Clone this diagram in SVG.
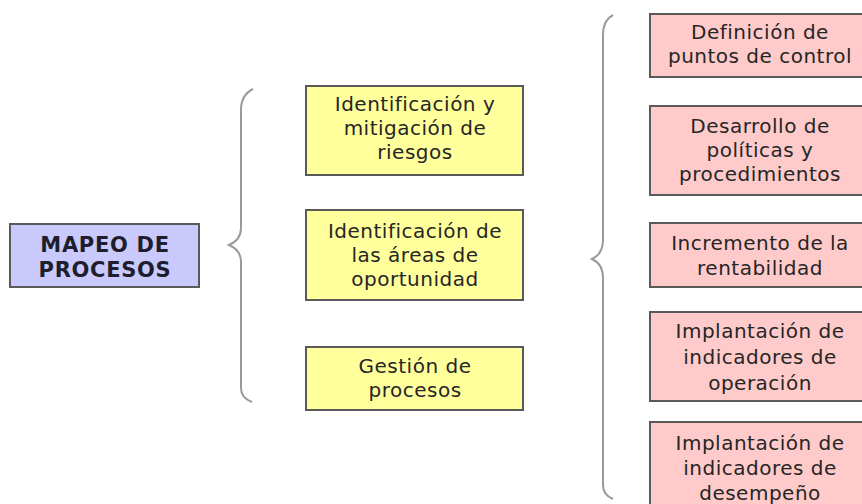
<svg xmlns="http://www.w3.org/2000/svg" width="862" height="504" viewBox="0 0 862 504">
<style>
.box{stroke:#5a5a5a;stroke-width:2}
.main{fill:#c9c9fb}
.yel{fill:#ffff9c}
.pink{fill:#ffcaca}
.t{font-family:"DejaVu Sans","Verdana",sans-serif;font-size:20px;fill:#262626;text-anchor:middle;letter-spacing:0.5px}
.tb{font-family:"DejaVu Sans","Verdana",sans-serif;font-size:21px;font-weight:bold;fill:#1e1e2e;text-anchor:middle;letter-spacing:0.7px}
.brace{fill:none;stroke:#9a9a9a;stroke-width:2}
</style>
<rect width="862" height="504" fill="#ffffff"/>
<g id="connectors">
<path class="brace" d="M253,89 Q241,95 241,110 L241,228 Q241,240 229,245 Q241,250 241,262 L241,388 Q241,398 252,402"/>
<path class="brace" d="M613,15 Q603,20 603,35 L603,240 Q603,254 592,259 Q603,264 603,278 L603,485 Q603,495 613,499"/>
</g>
<g id="n-mapeo">
<rect class="box main" x="10" y="224" width="189" height="63"/>
<text class="tb" x="105" y="252">MAPEO DE</text>
<text class="tb" x="105" y="277">PROCESOS</text>
</g>
<g id="n-riesgos">
<rect class="box yel" x="306" y="86" width="217" height="89"/>
<text class="t" x="415" y="111">Identificación y</text>
<text class="t" x="415" y="135">mitigación de</text>
<text class="t" x="415" y="159">riesgos</text>
</g>
<g id="n-areas">
<rect class="box yel" x="306" y="210" width="217" height="90"/>
<text class="t" x="415" y="238">Identificación de</text>
<text class="t" x="415" y="262">las áreas de</text>
<text class="t" x="415" y="286">oportunidad</text>
</g>
<g id="n-gestion">
<rect class="box yel" x="306" y="347" width="217" height="63"/>
<text class="t" x="415" y="373">Gestión de</text>
<text class="t" x="415" y="397">procesos</text>
</g>
<g id="n-control">
<rect class="box pink" x="650" y="14" width="222" height="63"/>
<text class="t" x="760" y="39">Definición de</text>
<text class="t" x="760" y="63">puntos de control</text>
</g>
<g id="n-politicas">
<rect class="box pink" x="650" y="106" width="222" height="89"/>
<text class="t" x="760" y="133">Desarrollo de</text>
<text class="t" x="760" y="157">políticas y</text>
<text class="t" x="760" y="181">procedimientos</text>
</g>
<g id="n-rentabilidad">
<rect class="box pink" x="650" y="223" width="222" height="64"/>
<text class="t" x="760" y="250">Incremento de la</text>
<text class="t" x="760" y="275">rentabilidad</text>
</g>
<g id="n-operacion">
<rect class="box pink" x="650" y="312" width="222" height="89"/>
<text class="t" x="760" y="338">Implantación de</text>
<text class="t" x="760" y="364">indicadores de</text>
<text class="t" x="760" y="390">operación</text>
</g>
<g id="n-desempeno">
<rect class="box pink" x="650" y="422" width="222" height="100"/>
<text class="t" x="760" y="450">Implantación de</text>
<text class="t" x="760" y="475">indicadores de</text>
<text class="t" x="760" y="500">desempeño</text>
</g>
</svg>
